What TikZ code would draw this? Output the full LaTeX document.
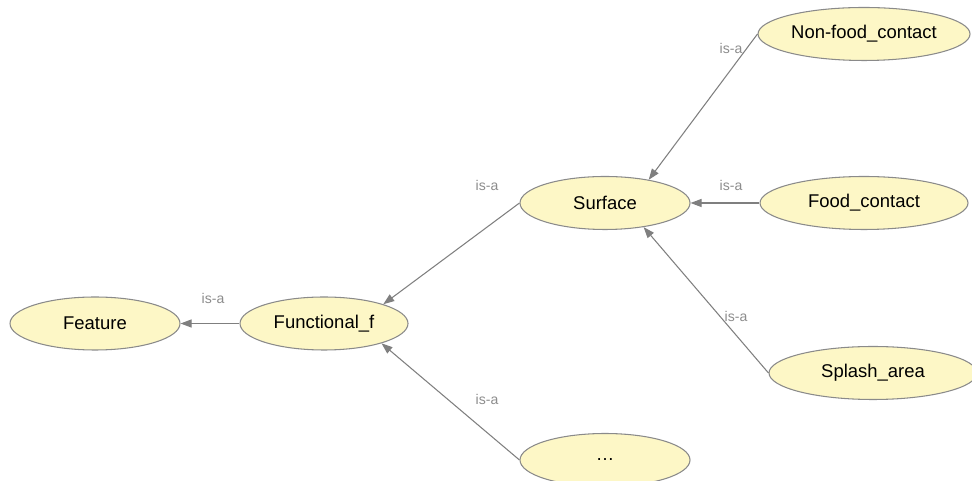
\documentclass[tikz,border=0pt]{standalone}
\usepackage{fontspec}
\setmainfont{Liberation Sans}
\usetikzlibrary{arrows.meta,shapes.geometric}
\definecolor{classfill}{HTML}{FDF7C6}
\definecolor{classline}{HTML}{8A8A8A}
\definecolor{relline}{HTML}{7F7F7F}
\definecolor{reltext}{HTML}{8C8C8C}

\begin{document}
\begin{tikzpicture}[
      cls/.style={ellipse,draw=classline,fill=classfill,line width=0.6pt,minimum width=3.40cm,minimum height=1.06cm,inner sep=0pt,font=\fontsize{10.5}{12}\selectfont},
      isa/.style={-{Triangle[length=2.2mm,width=1.6mm]},line width=0.6pt,color=relline},
      lbl/.style={font=\fontsize{8}{10}\selectfont,text=reltext,inner sep=0pt}
    ]
      \useasboundingbox (0,0) rectangle (19.44,9.62);
      \node[cls] (feat) at (1.90,3.15) {Feature};
      \node[cls,minimum width=3.36cm] (fun) at (6.48,3.15) {Functional\_f};
      \node[cls] (sur) at (12.10,5.56) {Surface};
      \node[cls,minimum width=4.24cm] (non) at (17.28,8.94) {Non-food\_contact};
      \node[cls,minimum width=4.16cm] (food) at (17.28,5.56) {Food\_contact};
      \node[cls,minimum width=4.16cm] (spl) at (17.46,2.16) {Splash\_area};
      \node[cls] (dots) at (12.10,0.42) {\dots};
      \draw[isa] (fun.west)--(feat.east);
      \draw[isa] (sur.west)--(fun.18);
      \draw[isa] (dots.west)--(fun.-19);
      \draw[isa] (non.west)--(sur.28);
      \draw[isa] (food.west)--(sur.east);
      \draw[isa] (spl.west)--(sur.-32);
      \node[lbl] (l1) at (4.26,3.66) {is-a};
      \node[lbl] (l2) at (9.74,5.92) {is-a};
      \node[lbl] (l3) at (9.74,1.64) {is-a};
      \node[lbl] (l4) at (14.62,8.66) {is-a};
      \node[lbl] (l5) at (14.62,5.92) {is-a};
      \node[lbl] (l6) at (14.72,3.30) {is-a};
    \end{tikzpicture}
\end{document}
